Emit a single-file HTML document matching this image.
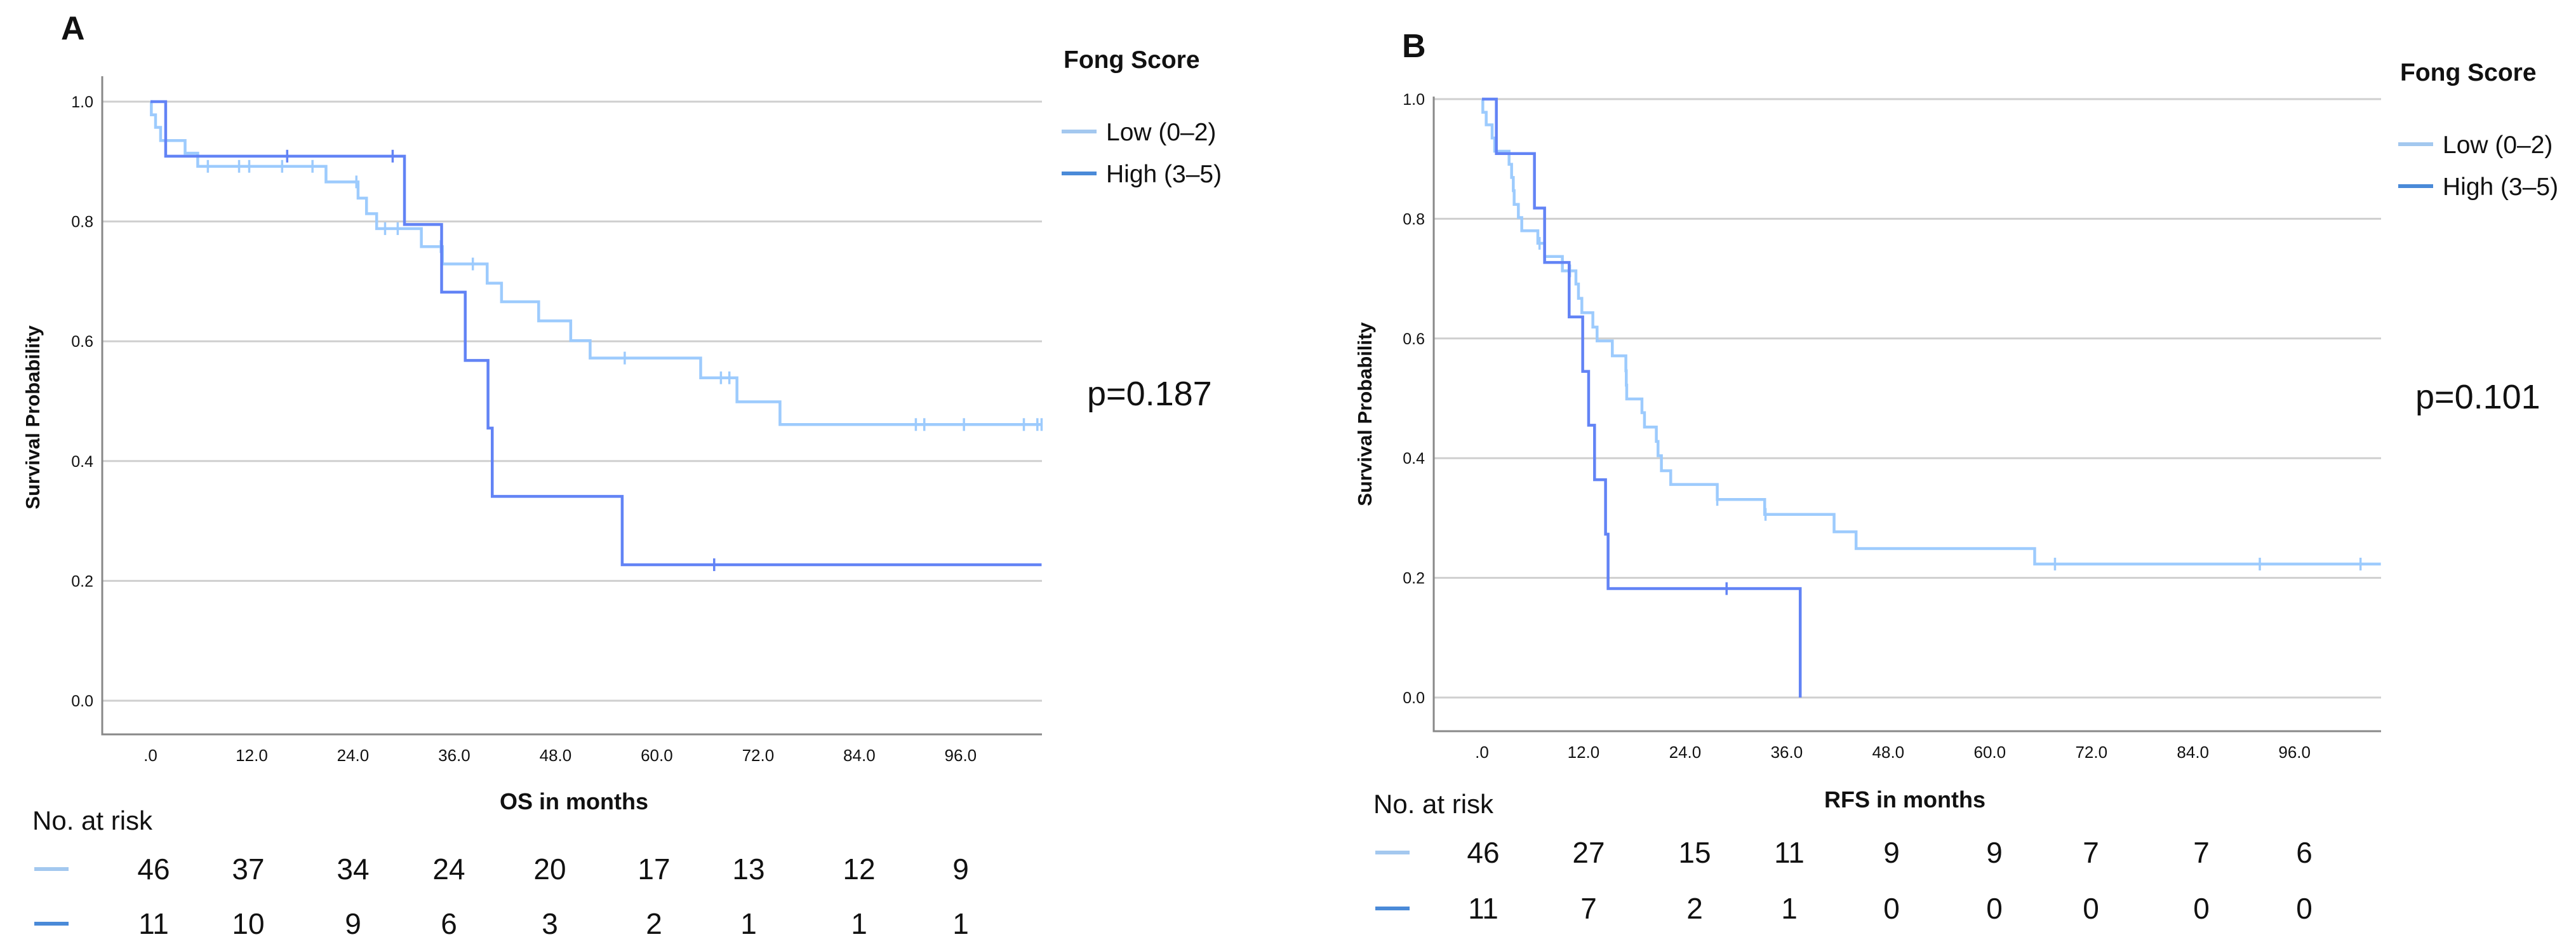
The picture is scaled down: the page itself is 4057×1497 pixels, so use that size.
<!DOCTYPE html>
<html><head><meta charset="utf-8"><style>
html,body{margin:0;padding:0;background:#fff}
svg{display:block}
text{font-family:"Liberation Sans",sans-serif;fill:#111}
</style></head><body>
<svg id="fig" width="4057" height="1497" viewBox="0 0 4057 1497" xmlns="http://www.w3.org/2000/svg">
</svg>
<script>
// ---------- Data ----------
const xTicks = [0,12,24,36,48,60,72,84,96];
const xTickLabels = [".0","12.0","24.0","36.0","48.0","60.0","72.0","84.0","96.0"];
const yTicks = [0,0.2,0.4,0.6,0.8,1.0];
const yTickLabels = ["0.0","0.2","0.4","0.6","0.8","1.0"];

// Panel A (OS)
const osLowTimes = [0.1,0.6,1.2,4.1,5.6,20.8,24.6,25.6,26.8,32.1,34.6,39.9,41.6,46.0,49.8,52.1,65.2,69.5,74.6];
const osLowSurv  = [0.978,0.957,0.935,0.914,0.892,0.866,0.839,0.813,0.788,0.758,0.729,0.697,0.666,0.634,0.601,0.572,0.539,0.499,0.461];
const osLowCens  = [6.8,10.5,11.7,15.6,19.2,24.4,27.8,29.3,34.4,38.2,56.2,67.6,68.6,90.7,91.7,96.4,103.5,105.1,105.6];
const osHighTimes = [1.8,30.1,34.5,37.3,40.0,40.5,55.9];
const osHighSurv  = [0.909,0.795,0.682,0.568,0.455,0.341,0.227];
const osHighCens  = [16.2,28.7,66.8];
const osRiskLow  = [46,37,34,24,20,17,13,12,9];
const osRiskHigh = [11,10,9,6,3,2,1,1,1];

// Panel B (RFS)
const rfsLowTimes = [0.1,0.5,1.2,1.5,3.2,3.5,3.7,3.8,4.3,4.7,6.6,7.4,9.5,11.1,11.4,11.8,13.1,13.6,15.4,17.0,17.05,17.1,18.9,19.2,20.6,20.8,21.2,22.3,27.8,33.4,41.6,44.2,65.3];
const rfsLowSurv  = [0.978,0.957,0.935,0.913,0.891,0.869,0.847,0.824,0.802,0.780,0.759,0.737,0.713,0.691,0.667,0.643,0.619,0.596,0.571,0.546,0.522,0.499,0.476,0.452,0.428,0.404,0.379,0.356,0.331,0.306,0.277,0.249,0.223];
const rfsLowCens  = [6.8,10.4,27.8,33.5,67.7,91.9,103.8];
const rfsHighTimes = [1.7,6.2,7.4,10.3,11.9,12.6,13.3,14.6,14.9,37.6];
const rfsHighSurv  = [0.909,0.818,0.727,0.636,0.545,0.455,0.364,0.273,0.182,0.0];
const rfsHighCens  = [28.9];
const rfsRiskLow  = [46,27,15,11,9,9,7,7,6];
const rfsRiskHigh = [11,7,2,1,0,0,0,0,0];

// ---------- Drawing ----------
const NS = "http://www.w3.org/2000/svg";
const svg = document.getElementById('fig');
const LOW = "#9dcbfd", HIGH = "#6283f5";
function mk(tag, attrs, parent){
  const el = document.createElementNS(NS, tag);
  for (const k in attrs) el.setAttribute(k, attrs[k]);
  (parent||svg).appendChild(el);
  return el;
}
function txt(s, attrs, parent){ const t = mk('text', attrs, parent); t.textContent = s; return t; }

function panel(cfg){
  const g = mk('g', {});
  
  
  const X = m => cfg.x0 + m * cfg.pxPerMonth;
  const Y = s => cfg.y0 - s * cfg.pxPerUnit;
  // gridlines
  yTicks.forEach((v,i) => {
    const l = mk('line', {x1:cfg.axisX, x2:cfg.xEndPx, y1:Y(v), y2:Y(v), stroke:"#cfcfcf", "stroke-width":3}, g);
    
    
    const t = txt(yTickLabels[i], {x:cfg.axisX-14, y:Y(v)+9, "font-size":25, "text-anchor":"end", fill:"#333"}, g);
    
    
  });
  // axes
  const ax = mk('polyline', {points:`${cfg.axisX},${cfg.axisTop} ${cfg.axisX},${cfg.axisBottom} ${cfg.xEndPx},${cfg.axisBottom}`, fill:"none", stroke:"#888", "stroke-width":3}, g);
  
  
  xTicks.forEach((v,i) => {
    const t = txt(xTickLabels[i], {x:X(v), y:cfg.axisBottom+42, "font-size":26, "text-anchor":"middle", fill:"#333"}, g);
    
    
  });
  // curves
  function curve(times, surv, cens, color, nm){
    let d = `M${X(0)},${Y(1)}`; let s = 1;
    times.forEach((t,i) => { d += ` H${X(t)} V${Y(surv[i])}`; s = surv[i]; });
    if (s > 0) d += ` H${X(cfg.xEnd)}`;
    const p = mk('path', {d:d, fill:"none", stroke:color, "stroke-width":4.5}, g);
    
    
    cens.forEach(c => {
      let sv = 1;
      times.forEach((t,i) => { if (t <= c) sv = surv[i]; });
      const tk = mk('line', {x1:X(c), x2:X(c), y1:Y(sv)-10, y2:Y(sv)+10, stroke:color, "stroke-width":3.5}, g);
      
      
    });
  }
  curve(cfg.lowT, cfg.lowS, cfg.lowC, LOW, 'low');
  curve(cfg.highT, cfg.highS, cfg.highC, HIGH, 'high');
  // titles
  const xt = txt(cfg.xTitle, {x:cfg.xTitleX, y:cfg.xTitleY, "font-size":36, "font-weight":"bold", "text-anchor":"middle"}, g);
  
  
  const yt = txt("Survival Probability", {x:0, y:0, "font-size":31, "font-weight":"bold", "text-anchor":"middle", transform:`translate(${cfg.yTitleX},${cfg.yTitleY}) rotate(-90)`}, g);
  
  
  const pl = txt(cfg.letter, {x:cfg.letterX, y:cfg.letterY, "font-size":52, "font-weight":"bold"}, g);
  
  
  // legend
  const lt = txt("Fong Score", {x:cfg.legX, y:cfg.legY, "font-size":39, "font-weight":"bold"}, g);
  
  
  [["Low (0–2)", "#a3c8ef", 0], ["High (3–5)", "#4a8ad8", 66]].forEach(e => {
    const ll = mk('line', {x1:cfg.legX-3, x2:cfg.legX+52, y1:cfg.legY+100+e[2], y2:cfg.legY+100+e[2], stroke:e[1], "stroke-width":6}, g);
    
    
    const lx = txt(e[0], {x:cfg.legX+67, y:cfg.legY+114+e[2], "font-size":39}, g);
    
    
  });
  const pv = txt(cfg.pText, {x:cfg.pX, y:cfg.pY, "font-size":54}, g);
  
  
  // risk table
  const rt = txt("No. at risk", {x:cfg.riskX, y:cfg.riskTitleY, "font-size":42}, g);
  
  
  [[cfg.riskLow, "#a3c8ef", cfg.riskY1], [cfg.riskHigh, "#4a8ad8", cfg.riskY2]].forEach(r => {
    const sw = mk('line', {x1:cfg.riskX+3, x2:cfg.riskX+57, y1:r[2]-16, y2:r[2]-16, stroke:r[1], "stroke-width":6}, g);
    
    
    r[0].forEach((n,i) => {
      const c = txt(String(n), {x:cfg.riskCols[i], y:r[2], "font-size":46, "text-anchor":"middle", fill:"#222"}, g);
      
      
    });
  });
}

panel({name:'panel-a-os', letter:'A', letterX:96, letterY:62,
  x0:237, pxPerMonth:13.29, y0:1103, pxPerUnit:943, xEnd:105.6, xEndPx:1641,
  axisX:161, axisTop:120, axisBottom:1156,
  lowT:osLowTimes, lowS:osLowSurv, lowC:osLowCens, highT:osHighTimes, highS:osHighSurv, highC:osHighCens,
  xTitle:'OS in months', xTitleX:904, xTitleY:1274, yTitleX:62, yTitleY:657,
  legX:1675, legY:107, pText:'p=0.187', pX:1712, pY:638,
  riskX:51, riskTitleY:1306, riskY1:1384, riskY2:1470, riskLow:osRiskLow, riskHigh:osRiskHigh,
  riskCols:[242,391,556,707,866,1030,1179,1353,1513]});

panel({name:'panel-b-rfs', letter:'B', letterX:2208, letterY:90,
  x0:2334, pxPerMonth:13.33, y0:1098, pxPerUnit:942, xEnd:106.2, xEndPx:3750,
  axisX:2258, axisTop:152, axisBottom:1151,
  lowT:rfsLowTimes, lowS:rfsLowSurv, lowC:rfsLowCens, highT:rfsHighTimes, highS:rfsHighSurv, highC:rfsHighCens,
  xTitle:'RFS in months', xTitleX:3000, xTitleY:1271, yTitleX:2160, yTitleY:652,
  legX:3780, legY:127, pText:'p=0.101', pX:3804, pY:643,
  riskX:2163, riskTitleY:1280, riskY1:1358, riskY2:1446, riskLow:rfsRiskLow, riskHigh:rfsRiskHigh,
  riskCols:[2336,2502,2669,2818,2979,3141,3293,3467,3629]});
</script>
</body></html>
